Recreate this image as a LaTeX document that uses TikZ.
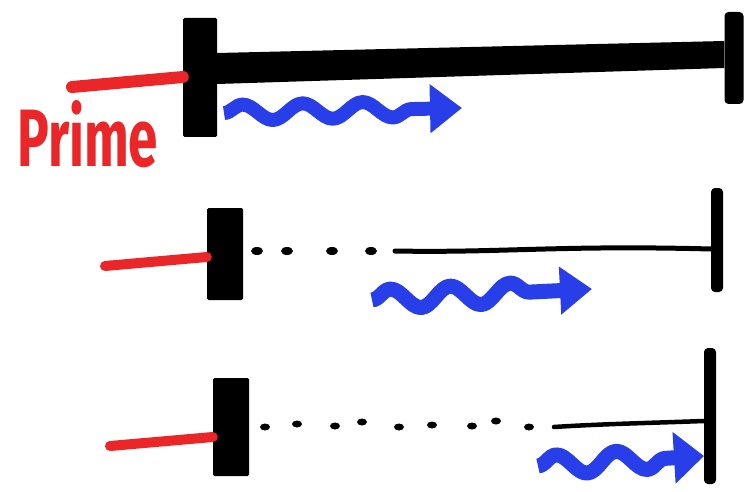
\documentclass[tikz,border=0pt]{standalone}
\usepackage{fontspec}
\setmainfont{Fira Sans}
\usetikzlibrary{arrows.meta,decorations.pathmorphing}
\definecolor{mred}{RGB}{234,38,40}
\definecolor{mblue}{RGB}{40,62,232}
\tikzset{
  blockbar/.style={fill=black, inner sep=0pt, rounded corners=1.5pt},
  endbar/.style={fill=black, inner sep=0pt, rounded corners=4pt},
  redline/.style={mred, line cap=round},
  thinline/.style={black, line width=5pt, line cap=round},
  wave/.style={mblue, line join=round, decorate,
    decoration={snake, amplitude=#1, segment length=60pt, post length=34pt}},
}
\begin{document}
\begin{tikzpicture}[x=1pt,y=-1pt]
\useasboundingbox (0,0) rectangle (752,492);
% ---------- row 1 ----------
\node[blockbar, minimum width=34pt, minimum height=119pt] (b1) at (200,77.5) {};
\node[endbar, minimum width=19pt, minimum height=92pt] (r1) at (734,58) {};
\fill (b1.east |- 0,53) -- (r1.west |- 0,41) -- (r1.west |- 0,68) -- (b1.east |- 0,84) -- cycle;
\coordinate (p1) at (72,87);
\draw[redline, line width=12pt] (p1) -- (b1.west |- 0,77);
\node[mred, inner sep=0pt, anchor=north west] (prime) at (17,100)
  {\resizebox{141pt}{66pt}{\bfseries Prime}};
\coordinate (w1s) at (224,113);
\coordinate (w1e) at (462,108);
\draw[wave=8pt, line width=14pt, -{Triangle[length=32pt,width=47pt]}] (w1s) -- (w1e);
% ---------- row 2 ----------
\node[blockbar, minimum width=36pt, minimum height=92pt] (b2) at (225,254) {};
\node[endbar, minimum width=12pt, minimum height=104pt] (r2) at (717,240) {};
\coordinate (p2) at (105,266);
\draw[redline, line width=10pt] (p2) -- (b2.west |- 0,257);
\foreach \x in {257,287,332,371} \fill (\x,251) ellipse (6pt and 4pt);
\coordinate (s2) at (395,251);
\draw[thinline] (s2) .. controls (500,253) and (560,245) .. (r2.west |- 0,249);
\coordinate (w2s) at (372,300);
\coordinate (w2e) at (592,289);
\draw[wave=10pt, line width=15pt, -{Triangle[length=32pt,width=46pt]}] (w2s) -- (w2e);
% ---------- row 3 ----------
\node[blockbar, minimum width=36pt, minimum height=98pt] (b3) at (231,427) {};
\node[endbar, minimum width=12pt, minimum height=136pt] (r3) at (710,416) {};
\coordinate (p3) at (110,446);
\draw[redline, line width=10pt] (p3) -- (b3.west |- 0,437);
\foreach \x/\y in {265/427,297/424,335/426,362/422,399/427,432/425,472/426,496/421,529/427}
  \fill (\x,\y) ellipse (5pt and 3.5pt);
\coordinate (s3) at (554,427);
\draw[thinline, line width=4.5pt] (s3) .. controls (600,424) and (650,423) .. (r3.west |- 0,421);
\coordinate (w3s) at (538,466);
\coordinate (w3e) at (704,456);
\draw[wave=10pt, line width=15pt, -{Triangle[length=30pt,width=50pt]}] (w3s) -- (w3e);
\end{tikzpicture}
\end{document}
